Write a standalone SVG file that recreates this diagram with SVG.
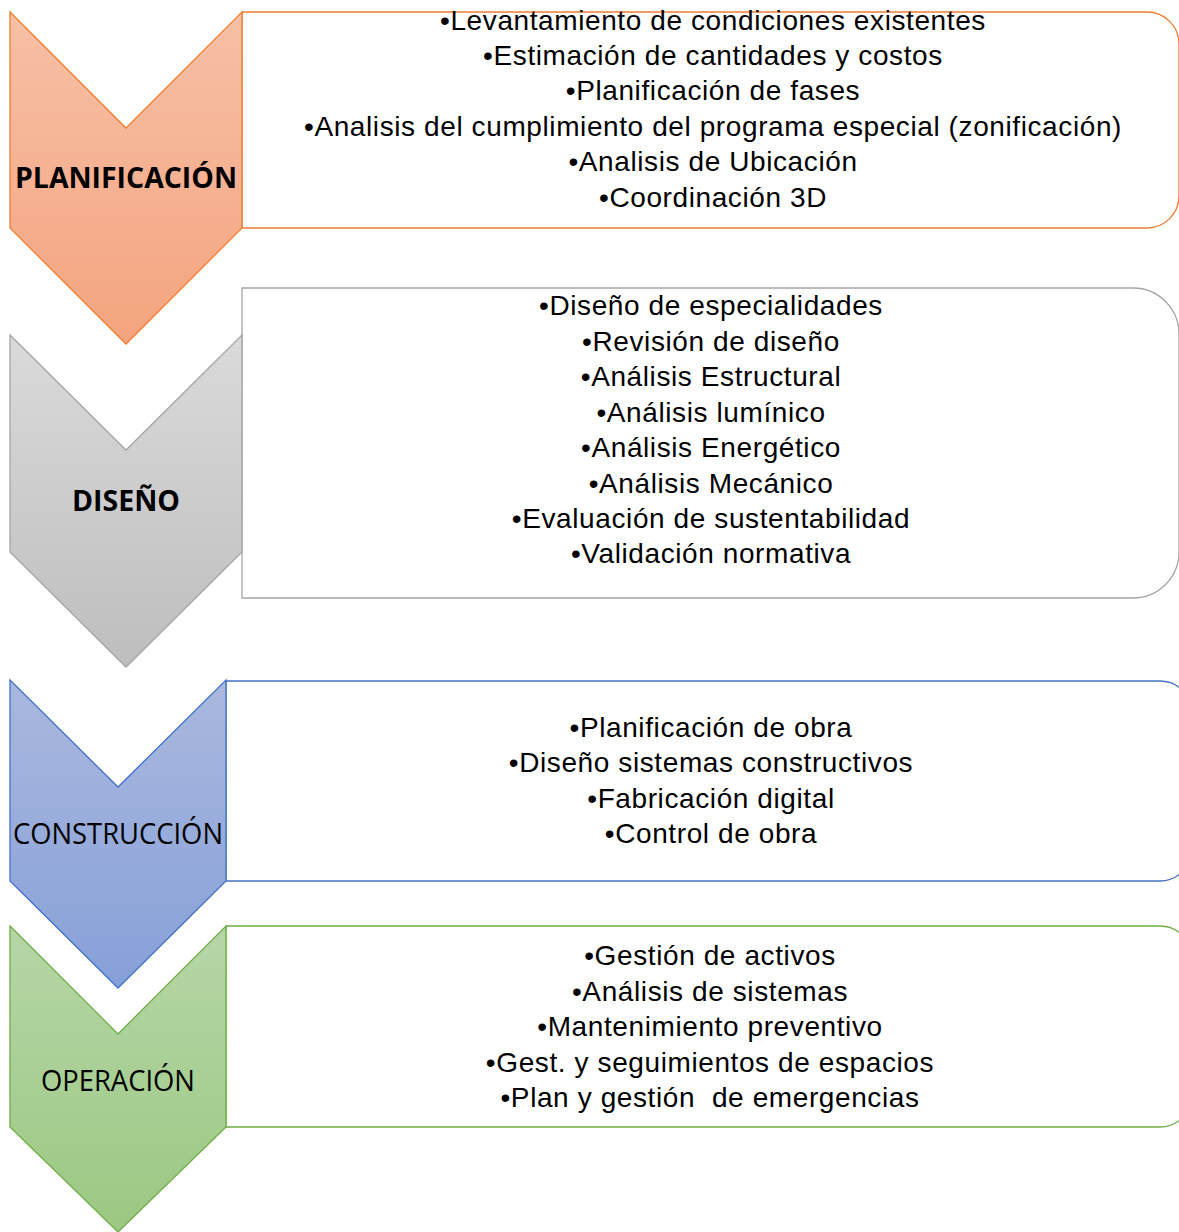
<svg xmlns="http://www.w3.org/2000/svg" width="1179" height="1232" viewBox="0 0 1179 1232">
  <defs>
    <linearGradient id="gOrange" x1="0" y1="0" x2="0" y2="1">
      <stop offset="0" stop-color="#F7C0A6"/>
      <stop offset="1" stop-color="#F4A47F"/>
    </linearGradient>
    <linearGradient id="gGray" x1="0" y1="0" x2="0" y2="1">
      <stop offset="0" stop-color="#DADADA"/>
      <stop offset="1" stop-color="#BEBEBE"/>
    </linearGradient>
    <linearGradient id="gBlue" x1="0" y1="0" x2="0" y2="1">
      <stop offset="0" stop-color="#AAB8DF"/>
      <stop offset="1" stop-color="#86A0D8"/>
    </linearGradient>
    <linearGradient id="gGreen" x1="0" y1="0" x2="0" y2="1">
      <stop offset="0" stop-color="#B6D6A8"/>
      <stop offset="1" stop-color="#9BC882"/>
    </linearGradient>
  </defs>
  <style>
    .box { fill: #FFFFFF; stroke-width: 1.3; }
    .chev { stroke-width: 1.3; stroke-linejoin: miter; }
    .item { font-family: "Liberation Sans", Arial, sans-serif; font-size: 28px; letter-spacing: 0.6px; fill: #000; text-anchor: middle; }
    .phase { font-family: "Open Sans", "Noto Sans", sans-serif; fill: #000; text-anchor: middle; }
  </style>
  <rect width="1179" height="1232" fill="#FFFFFF"/>

  <!-- Planificación -->
  <g id="planificacion">
    <path class="box" stroke="#ED7D31" d="M242,12 H1147 A32,32 0 0 1 1179,44 V196 A32,32 0 0 1 1147,228 H242 Z"/>
    <path class="chev" fill="url(#gOrange)" stroke="#ED7D31" d="M10,12 L126,128 L242,12 V228 L126,344 L10,228 Z"/>
    <text class="phase" x="126" y="188" font-size="29" font-weight="bold" textLength="222" lengthAdjust="spacingAndGlyphs">PLANIFICACIÓN</text>
    <g class="item">
      <text x="713" y="30">•Levantamiento de condiciones existentes</text>
      <text x="713" y="65">•Estimación de cantidades y costos</text>
      <text x="713" y="100">•Planificación de fases</text>
      <text x="713" y="136">•Analisis del cumplimiento del programa especial (zonificación)</text>
      <text x="713" y="171">•Analisis de Ubicación</text>
      <text x="713" y="207">•Coordinación 3D</text>
    </g>
  </g>

  <!-- Diseño -->
  <g id="diseno">
    <path class="box" stroke="#A5A5A5" d="M242,288 H1133 A46,46 0 0 1 1179,334 V552 A46,46 0 0 1 1133,598 H242 Z"/>
    <path class="chev" fill="url(#gGray)" stroke="#A5A5A5" d="M10,335 L126,450 L242,335 V552 L126,667 L10,552 Z"/>
    <text class="phase" x="126" y="511" font-size="29" font-weight="bold" textLength="108" lengthAdjust="spacingAndGlyphs">DISEÑO</text>
    <g class="item">
      <text x="711" y="315">•Diseño de especialidades</text>
      <text x="711" y="351">•Revisión de diseño</text>
      <text x="711" y="386">•Análisis Estructural</text>
      <text x="711" y="422">•Análisis lumínico</text>
      <text x="711" y="457">•Análisis Energético</text>
      <text x="711" y="493">•Análisis Mecánico</text>
      <text x="711" y="528">•Evaluación de sustentabilidad</text>
      <text x="711" y="563">•Validación normativa</text>
    </g>
  </g>

  <!-- Construcción -->
  <g id="construccion">
    <path class="box" stroke="#4472C4" d="M226,681 H1160 A32,32 0 0 1 1192,713 V849 A32,32 0 0 1 1160,881 H226 Z"/>
    <path class="chev" fill="url(#gBlue)" stroke="#4472C4" d="M10,680 L118,787 L226,680 V881 L118,988 L10,881 Z"/>
    <text class="phase" x="118" y="844" font-size="29" textLength="210" lengthAdjust="spacingAndGlyphs">CONSTRUCCIÓN</text>
    <g class="item">
      <text x="711" y="737">•Planificación de obra</text>
      <text x="711" y="772">•Diseño sistemas constructivos</text>
      <text x="711" y="808">•Fabricación digital</text>
      <text x="711" y="843">•Control de obra</text>
    </g>
  </g>

  <!-- Operación -->
  <g id="operacion">
    <path class="box" stroke="#70AD47" d="M226,926 H1160 A32,32 0 0 1 1192,958 V1095 A32,32 0 0 1 1160,1127 H226 Z"/>
    <path class="chev" fill="url(#gGreen)" stroke="#70AD47" d="M10,926 L118,1034 L226,926 V1127 L118,1232 L10,1127 Z"/>
    <text class="phase" x="118" y="1091" font-size="29" textLength="154" lengthAdjust="spacingAndGlyphs">OPERACIÓN</text>
    <g class="item">
      <text x="710" y="965">•Gestión de activos</text>
      <text x="710" y="1001">•Análisis de sistemas</text>
      <text x="710" y="1036">•Mantenimiento preventivo</text>
      <text x="710" y="1072">•Gest. y seguimientos de espacios</text>
      <text x="710" y="1107" xml:space="preserve">•Plan y gestión  de emergencias</text>
    </g>
  </g>

  <g id="connectors"/>
</svg>
